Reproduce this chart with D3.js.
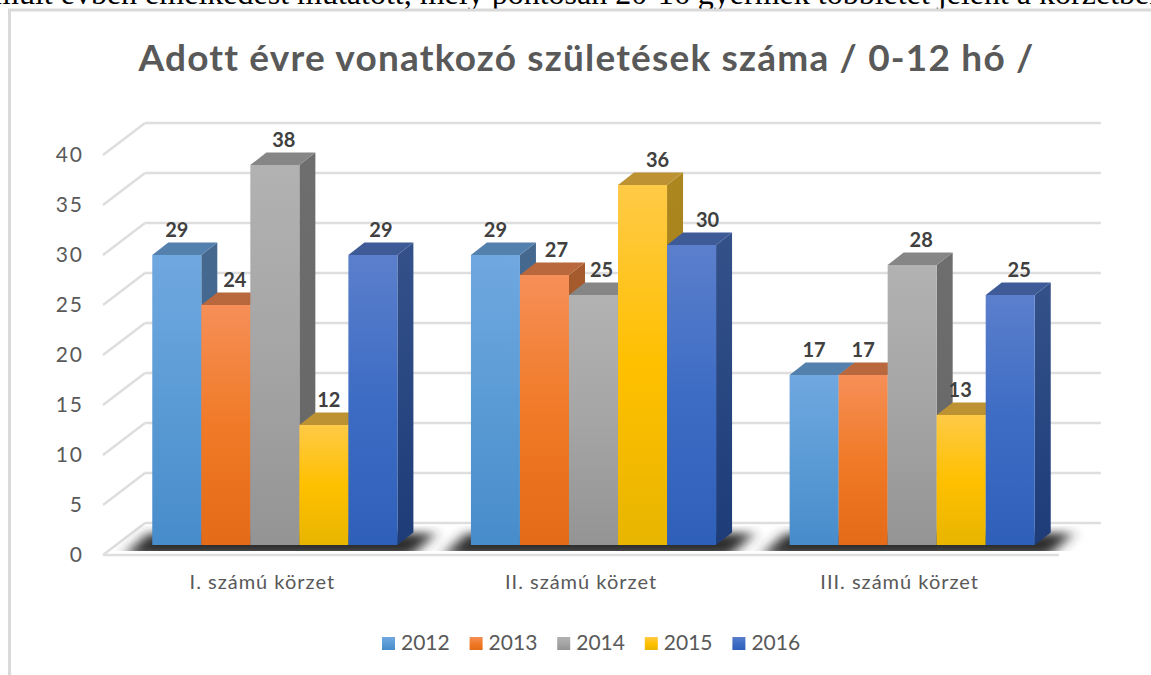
<!DOCTYPE html>
<html>
<head>
<meta charset="utf-8">
<script src="https://cdn.jsdelivr.net/npm/d3@7"></script>
<style>
    html, body { margin: 0; padding: 0; background: #fff; overflow: hidden; }
</style>
</head>
<body>
<div id="chart"></div>
<script>
const categories = ["I. számú körzet", "II. számú körzet", "III. számú körzet"];
const years = ["2012", "2013", "2014", "2015", "2016"];
const values2012 = [29, 29, 17];
const values2013 = [24, 27, 17];
const values2014 = [38, 25, 28];
const values2015 = [12, 36, 13];
const values2016 = [29, 30, 25];
const yTicks = [0, 5, 10, 15, 20, 25, 30, 35, 40];

const titleText = "Adott évre vonatkozó születések száma / 0-12 hó /";
const bodyLine = "múlt évben emelkedést mutatott, mely pontosan 20-16 gyermek többletet jelent a körzetben.";

// top, middle, bottom of the front face, then top face and side face
const frontColors = [
    ["#70a8e0", "#5b9bd5", "#478ccb"],
    ["#f68f58", "#f07a27", "#e46b17"],
    ["#b2b2b2", "#a5a5a5", "#949494"],
    ["#ffca47", "#ffc000", "#e8b500"],
    ["#5b7fcc", "#3d6cc4", "#2f60b9"]
];
const topColors = ["#5480ad", "#b8683c", "#868686", "#bd9233", "#3f5b97"];
const sideColors = [
    ["#46688e", "#3b6a9c"],
    ["#a65b2e", "#9c4f1a"],
    ["#6e6e6e", "#666666"],
    ["#ac861f", "#a07c10"],
    ["#34518a", "#1d3c78"]
];

// labels sit to the right of the bar when a neighbour is in the way
const labelNudge = [
    [0, 9, 9, 5, 8],
    [0, 12, 8, 15, 16],
    [0, 0, 9, -1, 9]
];

const allValues = [values2012, values2013, values2014, values2015, values2016];
const series = years.map((year, i) => ({ year, i, values: allValues[i] }));

const width = 1151;
const height = 675;
const depth = { x: 42, y: -32 };       // floor and wall offset
const barPlane = { x: 12.5, y: -10 };  // where the bars stand on the floor
const barDepth = { x: 16, y: -12.5 };  // how deep a bar is

const svg = d3.select("#chart")
    .append("svg")
    .attr("width", width)
    .attr("height", height)
    .style("display", "block")
    .style("font-family", "Lato, sans-serif");

const defs = svg.append("defs");

series.forEach(s => {
    const front = defs.append("linearGradient")
        .attr("id", `front${s.i}`)
        .attr("x1", 0).attr("y1", 0).attr("x2", 0).attr("y2", 1);
    front.selectAll("stop")
        .data(frontColors[s.i])
        .enter()
        .append("stop")
        .attr("offset", (d, i) => `${i * 50}%`)
        .attr("stop-color", d => d);

    const side = defs.append("linearGradient")
        .attr("id", `side${s.i}`)
        .attr("x1", 0).attr("y1", 0).attr("x2", 0).attr("y2", 1);
    side.selectAll("stop")
        .data(sideColors[s.i])
        .enter()
        .append("stop")
        .attr("offset", (d, i) => `${i * 100}%`)
        .attr("stop-color", d => d);
});

defs.append("filter")
    .attr("id", "floorBlur")
    .attr("x", "-15%").attr("y", "-80%").attr("width", "130%").attr("height", "260%")
    .append("feGaussianBlur")
    .attr("stdDeviation", "7 5");

const x0 = d3.scaleBand()
    .domain(categories)
    .range([103, 1059]);

const x1 = d3.scaleBand()
    .domain(years)
    .range([0, x0.bandwidth()])
    .paddingInner(0)
    .paddingOuter(0.75);

const y = d3.scaleLinear()
    .domain([0, 40])
    .range([555, 155]);

const legendX = d3.scaleBand()
    .domain(years)
    .range([382, 820]);

defs.append("clipPath")
    .attr("id", "floorClip")
    .append("rect")
    .attr("x", x0.range()[0])
    .attr("y", y(0) + depth.y + 3)
    .attr("width", x0.range()[1] - x0.range()[0] + depth.x)
    .attr("height", -depth.y - 7);

// text of the page above the chart, cut off by the window
svg.append("text")
    .attr("x", -6)
    .attr("y", 4)
    .attr("font-family", "Liberation Serif, serif")
    .attr("font-size", "32px")
    .attr("fill", "#000")
    .text(bodyLine);

// chart frame
svg.append("path")
    .attr("d", `M9.5,${height}V10H${width}`)
    .attr("fill", "none")
    .attr("stroke", "#d9d9d9")
    .attr("stroke-width", 3);

svg.append("text")
    .attr("x", 586.5)
    .attr("y", 71)
    .attr("text-anchor", "middle")
    .attr("font-size", "37px")
    .attr("font-weight", "bold")
    .attr("letter-spacing", "1.2px")
    .attr("fill", "#595959")
    .text(titleText);

// back wall and left wall lines
const grid = svg.append("g")
    .attr("fill", "none")
    .attr("stroke", "#dedede")
    .attr("stroke-width", 2.5);

grid.selectAll(".back")
    .data(yTicks)
    .enter()
    .append("line")
    .attr("class", "back")
    .attr("x1", x0.range()[0] + depth.x)
    .attr("x2", x0.range()[1] + depth.x)
    .attr("y1", d => y(d) + depth.y)
    .attr("y2", d => y(d) + depth.y);

grid.selectAll(".wall")
    .data(yTicks)
    .enter()
    .append("line")
    .attr("class", "wall")
    .attr("x1", x0.range()[0])
    .attr("x2", x0.range()[0] + depth.x)
    .attr("y1", d => y(d))
    .attr("y2", d => y(d) + depth.y);

grid.append("line")
    .attr("x1", x0.range()[0])
    .attr("x2", x0.range()[1])
    .attr("y1", y(0))
    .attr("y2", y(0));

// shadow of each bar group on the floor
svg.append("g")
    .attr("clip-path", "url(#floorClip)")
    .selectAll("path")
    .data(categories)
    .enter()
    .append("path")
    .attr("d", c => {
        const left = x0(c) + x1(years[0]) + barPlane.x;
        const right = x0(c) + x1(years[4]) + x1.bandwidth() + barPlane.x;
        const base = y(0) + barPlane.y;
        return `M${left - 28},${base + 11}L${right + 14},${base + 11}L${right + 38},${base - 12}L${left - 4},${base - 12}Z`;
    })
    .attr("fill", "#2e2e2e")
    .attr("filter", "url(#floorBlur)");

// bars, left to right so each one covers the side of the one before
const bars = svg.append("g");

categories.forEach((c, ci) => {
    series.forEach(s => {
        const v = s.values[ci];
        const left = x0(c) + x1(s.year) + barPlane.x;
        const right = left + x1.bandwidth();
        const top = y(v) + barPlane.y;
        const bottom = y(0) + barPlane.y;
        const g = bars.append("g");

        g.append("path")
            .attr("d", `M${right},${top}L${right + barDepth.x},${top + barDepth.y}V${bottom + barDepth.y}L${right},${bottom}Z`)
            .attr("fill", `url(#side${s.i})`);

        g.append("path")
            .attr("d", `M${left},${top}L${left + barDepth.x},${top + barDepth.y}H${right + barDepth.x}L${right},${top}Z`)
            .attr("fill", topColors[s.i]);

        g.append("rect")
            .attr("x", left)
            .attr("y", top)
            .attr("width", x1.bandwidth())
            .attr("height", bottom - top)
            .attr("fill", `url(#front${s.i})`);
    });
});

// value labels go last so no bar covers them
categories.forEach((c, ci) => {
    svg.append("g")
        .selectAll("text")
        .data(series)
        .enter()
        .append("text")
        .attr("x", s => x0(c) + x1(s.year) + barPlane.x + x1.bandwidth() / 2 + labelNudge[ci][s.i])
        .attr("y", s => y(s.values[ci]) + barPlane.y - 18)
        .attr("text-anchor", "middle")
        .attr("font-size", "20px")
        .attr("font-weight", "bold")
        .attr("fill", "#404040")
        .text(s => s.values[ci]);
});

const yAxis = d3.axisLeft(y)
    .tickValues(yTicks)
    .tickSize(0)
    .tickPadding(3)
    .tickFormat(d3.format("d"));

const yAxisG = svg.append("g")
    .attr("transform", "translate(87,0)")
    .call(yAxis);
yAxisG.select(".domain").remove();
yAxisG.selectAll("text")
    .attr("font-family", "Lato, sans-serif")
    .attr("font-size", "21px")
    .attr("letter-spacing", "2px")
    .attr("fill", "#595959");

const xAxis = d3.axisBottom(x0)
    .tickSize(0)
    .tickPadding(20);

const xAxisG = svg.append("g")
    .attr("transform", `translate(0,${y(0)})`)
    .call(xAxis);
xAxisG.select(".domain").remove();
xAxisG.selectAll("text")
    .attr("font-family", "Lato, sans-serif")
    .attr("font-size", "20px")
    .attr("letter-spacing", "1px")
    .attr("fill", "#595959");

// legend
const legend = svg.append("g")
    .selectAll("g")
    .data(series)
    .enter()
    .append("g")
    .attr("transform", s => `translate(${legendX(s.year)},637)`);

legend.append("rect")
    .attr("width", 13)
    .attr("height", 13)
    .attr("fill", s => `url(#front${s.i})`);

legend.append("text")
    .attr("x", 19)
    .attr("y", 13)
    .attr("font-size", "21px")
    .attr("fill", "#595959")
    .text(s => s.year);
</script>
</body>
</html>
